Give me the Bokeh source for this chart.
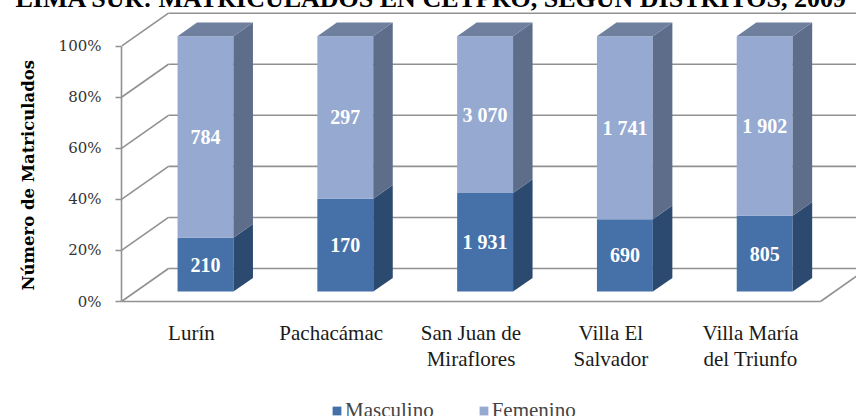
import numpy as np
from bokeh.plotting import figure
from bokeh.models import Range1d, FixedTicker, Legend, LegendItem, Title
from bokeh.core.properties import value
from bokeh.embed import file_html
from bokeh.resources import INLINE

# ---------------- data ----------------
title_text = "LIMA SUR: MATRICULADOS EN CETPRO, SEGÚN DISTRITOS, 2009"
districts = ["Lurín", "Pachacámac", "San Juan de\nMiraflores", "Villa El\nSalvador", "Villa María\ndel Triunfo"]
masculino = [210, 170, 1931, 690, 805]
femenino = [784, 297, 3070, 1741, 1902]
masc_labels = ["210", "170", "1 931", "690", "805"]
fem_labels = ["784", "297", "3 070", "1 741", "1 902"]
y_ticks = [0, 20, 40, 60, 80, 100]
y_title = "Número de Matriculados"
series_names = ["Masculino", "Femenino"]

# ---------------- layout / style constants ----------------
S = 30                 # canvas shifted up (title is cut at the top)
W, H = 856, 416 + S
BORDER_LEFT = 121
FRAME_TOP = 11         # page y of the frame top
PX_X = 139.8           # px per category
PX_Y = 2.553           # px per percent
FLOOR_Y = 301          # page y of the 0% front edge
DX = 47 / PX_X         # depth of the 3D box (data units)
DY = 33 / PX_Y
T0 = 0.30              # where the bars sit in the depth
BD = 0.415             # bar depth fraction
BAR_W = 0.40

C_MASC = "#4571A8"
C_MASC_SIDE = "#2C4A6F"
C_FEM = "#95A9D1"
C_FEM_SIDE = "#5E6D89"
C_FEM_TOP = "#6F7F9E"
GRID = "#919191"

n = len(districts)
x_end = (W - BORDER_LEFT) / PX_X
y_start = -(416 - FLOOR_Y) / PX_Y
y_end = (FLOOR_Y - FRAME_TOP) / PX_Y

p = figure(width=W, height=H, output_backend="svg", toolbar_location=None,
           x_range=Range1d(0, x_end), y_range=Range1d(y_start, y_end),
           x_axis_location=None, min_border_left=BORDER_LEFT, min_border_right=0,
           min_border_top=FRAME_TOP + S, min_border_bottom=0)
p.styles = {"margin-top": f"-{S}px"}
p.outline_line_color = None
p.xgrid.visible = False
p.ygrid.visible = False

# ---------------- titles ----------------
p.add_layout(Title(text=title_text, align="left", offset=15 - BORDER_LEFT, standoff=-3,
                   text_font="Liberation Serif", text_font_style="bold",
                   text_font_size="26px", text_color="black"), "above")
p.add_layout(Title(text=y_title, align="left", vertical_align="top",
                   offset=416 - 290, standoff=32,
                   text_font="DejaVu Serif", text_font_style="bold",
                   text_font_size="16.5px", text_color="black"), "left")

# ---------------- walls ----------------
tk = np.array(y_ticks, dtype=float)
p.segment(x0=np.zeros_like(tk), y0=tk, x1=np.full_like(tk, DX), y1=tk + DY,
          line_color=GRID, line_width=1.6)
p.segment(x0=np.full_like(tk, DX), y0=tk + DY, x1=np.full_like(tk, n + DX), y1=tk + DY,
          line_color=GRID, line_width=1.6)
p.segment(x0=[0, n], y0=[0, 0], x1=[n, n + DX], y1=[0, DY], line_color=GRID, line_width=1.6)

# ---------------- bars ----------------
tot = np.array(masculino, float) + np.array(femenino, float)
pm = np.array(masculino, float) / tot * 100
xc = np.arange(n) + 0.5
xl = xc - BAR_W / 2 + T0 * DX
xr = xl + BAR_W
oy = T0 * DY
bdx, bdy = BD * DX, BD * DY

r_m = p.quad(left=xl, right=xr, bottom=np.full(n, oy), top=pm + oy,
             fill_color=C_MASC, line_color=None)
r_f = p.quad(left=xl, right=xr, bottom=pm + oy, top=np.full(n, 100 + oy),
             fill_color=C_FEM, line_color=None)

side_x = [[a, a + bdx, a + bdx, a] for a in xr]
side_m_y = [[oy, oy + bdy, v + oy + bdy, v + oy] for v in pm]
p.patches(xs=side_x, ys=side_m_y, fill_color=C_MASC_SIDE, line_color=None)
side_f_y = [[v + oy, v + oy + bdy, 100 + oy + bdy, 100 + oy] for v in pm]
p.patches(xs=side_x, ys=side_f_y, fill_color=C_FEM_SIDE, line_color=None)
top_x = [[a, b, b + bdx, a + bdx] for a, b in zip(xl, xr)]
top_y = [[100 + oy, 100 + oy, 100 + oy + bdy, 100 + oy + bdy] for _ in range(n)]
p.patches(xs=top_x, ys=top_y, fill_color=C_FEM_TOP, line_color=None)

# data labels
lx = xc + T0 * DX
p.text(x=lx, y=pm / 2 + oy, text=masc_labels, text_color="white",
       text_font=value("Liberation Serif"), text_font_style="bold", text_font_size="20px",
       text_align="center", text_baseline="middle")
p.text(x=lx, y=(pm + 100) / 2 + oy, text=fem_labels, text_color="white",
       text_font=value("Liberation Serif"), text_font_style="bold", text_font_size="20px",
       text_align="center", text_baseline="middle")

# category labels
p.text(x=xc, y=np.full(n, -(320 - FLOOR_Y) / PX_Y), text=districts, text_color="#1a1a1a",
       text_font=value("Liberation Serif"), text_font_size="21px",
       text_align="center", text_baseline="top", text_line_height=1.1)

# ---------------- axis ----------------
ax = p.yaxis[0]
ax.ticker = FixedTicker(ticks=y_ticks)
ax.bounds = (0, 100)
ax.major_label_overrides = {v: f"{v}%" for v in y_ticks}
ax.major_tick_out = 6
ax.major_tick_in = 0
ax.minor_tick_line_color = None
ax.axis_line_color = GRID
ax.axis_line_width = 1.6
ax.major_tick_line_color = GRID
ax.major_tick_line_width = 1.6
ax.major_label_standoff = 14
ax.major_label_text_font = "DejaVu Serif"
ax.major_label_text_font_size = "15px"
ax.major_label_text_color = "#333333"

# ---------------- legend ----------------
legend = Legend(items=[LegendItem(label=series_names[0], renderers=[r_m]),
                       LegendItem(label=series_names[1], renderers=[r_f])],
                orientation="horizontal", location=(210, -7),
                glyph_width=11, glyph_height=11, label_height=11,
                label_text_font="Liberation Serif", label_text_font_size="21px",
                label_standoff=3, spacing=44, padding=0, margin=0,
                border_line_color=None, background_fill_alpha=0)
p.add_layout(legend, "center")

open("out.html", "w").write(file_html(p, INLINE))
